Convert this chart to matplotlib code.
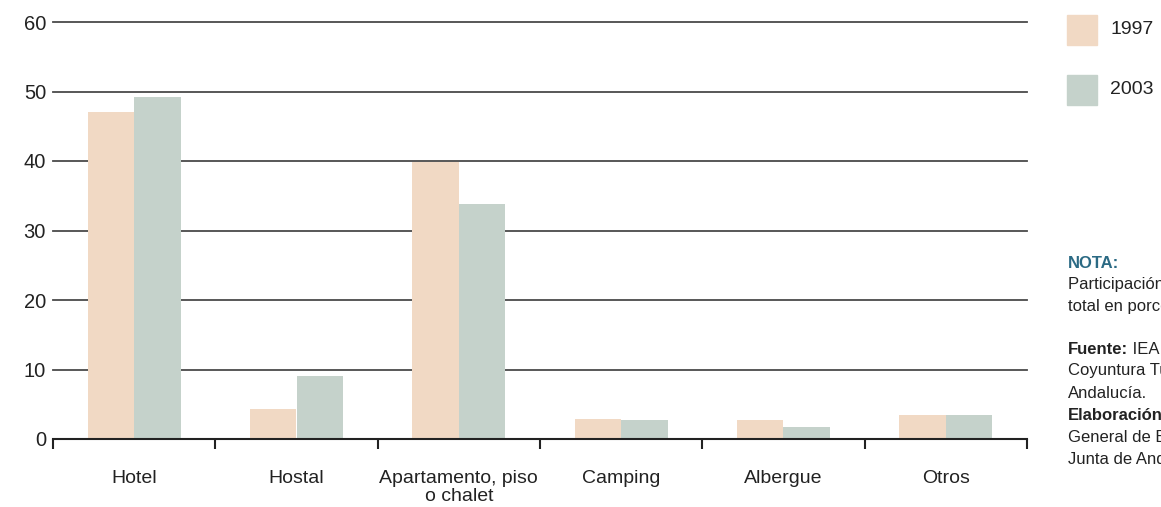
import matplotlib
matplotlib.use("Agg")
import matplotlib.pyplot as plt
import numpy as np
from matplotlib import font_manager

names = {f.name for f in font_manager.fontManager.ttflist}
FAMILY = [n for n in ["Liberation Sans Narrow", "Liberation Sans", "DejaVu Sans"]
          if n in names] or ["DejaVu Sans"]
plt.rcParams["font.family"] = FAMILY

categories = ["Hotel", "Hostal", "Apartamento, piso\no chalet", "Camping",
              "Albergue", "Otros"]
v1997 = [47.0, 4.3, 39.8, 2.9, 2.7, 3.4]
v2003 = [49.2, 9.1, 33.8, 2.7, 1.7, 3.4]
yticks = [0, 10, 20, 30, 40, 50, 60]
series = ["1997", "2003"]

C97 = "#f1d9c4"
C03 = "#c5d2cb"
GRID = "#4a4a4a"
TXT = "#222222"

fig = plt.figure(figsize=(11.61, 5.07), dpi=100)
ax = fig.add_axes([53 / 1161, 1 - 439 / 507, 974 / 1161, 417 / 507])

x = np.arange(len(categories))
w = 0.287
ax.bar(x - w / 2, v1997, width=w, color=C97, zorder=3)
ax.bar(x + w / 2, v2003, width=w, color=C03, zorder=3)

ax.set_xlim(-0.5, len(categories) - 0.5)
ax.set_ylim(0, 60)
for t in yticks[1:]:
    ax.axhline(t, color=GRID, lw=1.3, zorder=1, clip_on=False)
ax.axhline(0, color=TXT, lw=1.5, zorder=4, clip_on=False)

for s in ax.spines.values():
    s.set_visible(False)

ax.set_yticks(yticks)
ax.set_yticklabels([str(t) for t in yticks], fontsize=14.5, color=TXT)
ax.tick_params(axis="y", length=0, pad=5)

ax.set_xticks(np.arange(-0.5, len(categories)), minor=True)
ax.tick_params(axis="x", which="minor", length=7, width=1.5, color=TXT,
               direction="out")
ax.set_xticks(x)
ax.set_xticklabels(categories, fontsize=14, color=TXT, linespacing=1.1)
ax.tick_params(axis="x", which="major", length=0, pad=22)

# legend squares
for i, (lab, col) in enumerate(zip(series, [C97, C03])):
    y0 = 1 - (45 + 59.5 * i) / 507
    fig.patches.append(plt.Rectangle((1067 / 1161, y0), 30 / 1161, 30 / 507,
                                     transform=fig.transFigure, color=col))
    fig.text(1110 / 1161, y0 + 15 / 507, lab, fontsize=14, color=TXT,
             va="center", ha="left")

# note block (cut off at the right edge as in the original)
xt = 1068 / 1161
fs = 12
fig.text(xt, 1 - 264 / 507, "NOTA:", fontsize=fs, fontweight="bold",
         color="#2b6a84", va="center")
fig.text(xt, 1 - 285 / 507, "Participación sobre el", fontsize=fs,
         color=TXT, va="center")
fig.text(xt, 1 - 307 / 507, "total en porcentaje", fontsize=fs,
         color=TXT, va="center")
t1 = fig.text(xt, 1 - 349 / 507, "Fuente:", fontsize=fs, fontweight="bold",
              color=TXT, va="center")
ax.annotate(" IEA. Encuesta de", xy=(1, 0.5), xycoords=t1, va="center",
            ha="left", fontsize=fs, color=TXT, annotation_clip=False)
fig.text(xt, 1 - 371 / 507, "Coyuntura Turística de", fontsize=fs,
         color=TXT, va="center")
fig.text(xt, 1 - 393 / 507, "Andalucía.", fontsize=fs, color=TXT,
         va="center")
fig.text(xt, 1 - 415 / 507, "Elaboración:", fontsize=fs, fontweight="bold",
         color=TXT, va="center")
fig.text(xt, 1 - 437 / 507, "General de Economía", fontsize=fs, color=TXT,
         va="center")
fig.text(xt, 1 - 460 / 507, "Junta de Andalucía.", fontsize=fs, color=TXT,
         va="center")

fig.savefig("out.png", dpi=100)
